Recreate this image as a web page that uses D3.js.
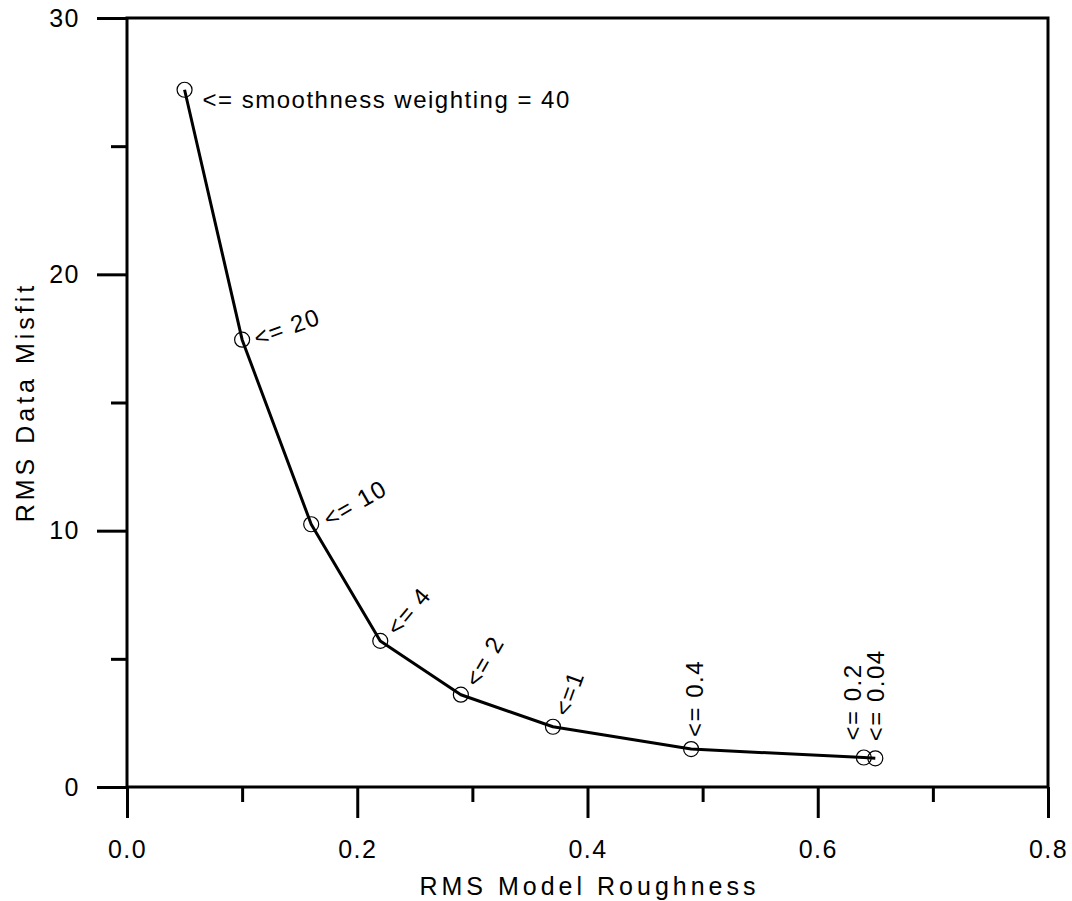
<!DOCTYPE html>
<html>
<head>
<meta charset="utf-8">
<script src="https://cdn.jsdelivr.net/npm/d3@7"></script>
<style>
  body { margin: 0; background: #fff; }
  svg text { font-family: "Liberation Sans", Arial, sans-serif; fill: #000; }
</style>
</head>
<body>
<div id="chart"></div>
<script>
// roughness vs misfit trade-off curve
const roughness = [0.05, 0.10, 0.16, 0.22, 0.29, 0.37, 0.49, 0.64, 0.65];
const misfit = [27.2, 17.45, 10.25, 5.7, 3.6, 2.35, 1.48, 1.15, 1.12];
const labels = ["<= smoothness weighting = 40", "<= 20", "<= 10", "<= 4", "<= 2", "<=1", "<= 0.4", "<= 0.2", "<= 0.04"];

const xMajor = [0, 0.2, 0.4, 0.6, 0.8];
const xMinor = [0.1, 0.3, 0.5, 0.7];
const yMajor = [0, 10, 20, 30];
const yMinor = [5, 15, 25];

// label layout: rotation and offset in the rotated frame
const labelAngle = [0, -20, -30, -50, -60, -70, -90, -90, -90];
const labelShift = [[18, 18], [12, 12], [14, 12], [14, 11], [14, 12], [14, 12], [12, 12], [17, -3], [17, 9]];

const margin = {top: 18, right: 24, bottom: 114, left: 127},
    width = 1072 - margin.left - margin.right,
    height = 901 - margin.top - margin.bottom;

const svg = d3.select("#chart")
  .append("svg")
    .attr("width", 1072)
    .attr("height", 901)
  .append("g")
    .attr("transform", `translate(${margin.left},${margin.top})`);

const x = d3.scaleLinear().domain([0, 0.8]).range([0, width]);
const y = d3.scaleLinear().domain([0, 30]).range([height, 0]);

function styleAxis(g) {
  g.select(".domain").remove();
  g.selectAll("line").attr("stroke", "#000").attr("stroke-width", 3);
  g.selectAll("text")
    .style("font-size", "25px")
    .style("letter-spacing", "1.5px")
    .attr("fill", "#000");
}

// minor ticks
svg.append("g")
  .attr("transform", `translate(0,${height})`)
  .call(d3.axisBottom(x).tickValues(xMinor).tickSize(15).tickFormat(""))
  .call(styleAxis);
svg.append("g")
  .call(d3.axisLeft(y).tickValues(yMinor).tickSize(16).tickFormat(""))
  .call(styleAxis);

// major ticks
svg.append("g")
  .attr("transform", `translate(0,${height})`)
  .call(d3.axisBottom(x).tickValues(xMajor).tickSize(31).tickPadding(22).tickFormat(d3.format(".1f")))
  .call(styleAxis);
svg.append("g")
  .call(d3.axisLeft(y).tickValues(yMajor).tickSize(30).tickPadding(17).tickFormat(d3.format("d")))
  .call(styleAxis);

// frame
svg.append("rect")
  .attr("x", 0).attr("y", 0)
  .attr("width", width).attr("height", height)
  .attr("fill", "none")
  .attr("stroke", "#000")
  .attr("stroke-width", 3);

const pts = roughness.map((r, i) => ({r: r, m: misfit[i], label: labels[i], i: i}));

svg.append("path")
  .datum(pts)
  .attr("d", d3.line().x(d => x(d.r)).y(d => y(d.m)))
  .attr("fill", "none")
  .attr("stroke", "#000")
  .attr("stroke-width", 3)
  .attr("stroke-linejoin", "round");

svg.selectAll(".pt")
  .data(pts)
  .enter()
  .append("circle")
    .attr("class", "pt")
    .attr("cx", d => x(d.r))
    .attr("cy", d => y(d.m))
    .attr("r", 7.5)
    .attr("fill", "none")
    .attr("stroke", "#000")
    .attr("stroke-width", 1.2);

svg.selectAll(".lbl")
  .data(pts)
  .enter()
  .append("text")
    .attr("class", "lbl")
    .attr("transform", d => `translate(${x(d.r)},${y(d.m)}) rotate(${labelAngle[d.i]})`)
    .attr("x", d => labelShift[d.i][0])
    .attr("y", d => labelShift[d.i][1])
    .style("font-size", "24px")
    .style("letter-spacing", "1.5px")
    .text(d => d.label);

// axis titles
svg.append("text")
  .attr("x", width / 2 + 2)
  .attr("y", height + 108)
  .attr("text-anchor", "middle")
  .style("font-size", "25px")
  .style("letter-spacing", "4px")
  .text("RMS Model Roughness");

svg.append("text")
  .attr("transform", "rotate(-90)")
  .attr("x", -(402 - margin.top))
  .attr("y", 34 - margin.left)
  .attr("text-anchor", "middle")
  .style("font-size", "25px")
  .style("letter-spacing", "4px")
  .text("RMS Data Misfit");
</script>
</body>
</html>
